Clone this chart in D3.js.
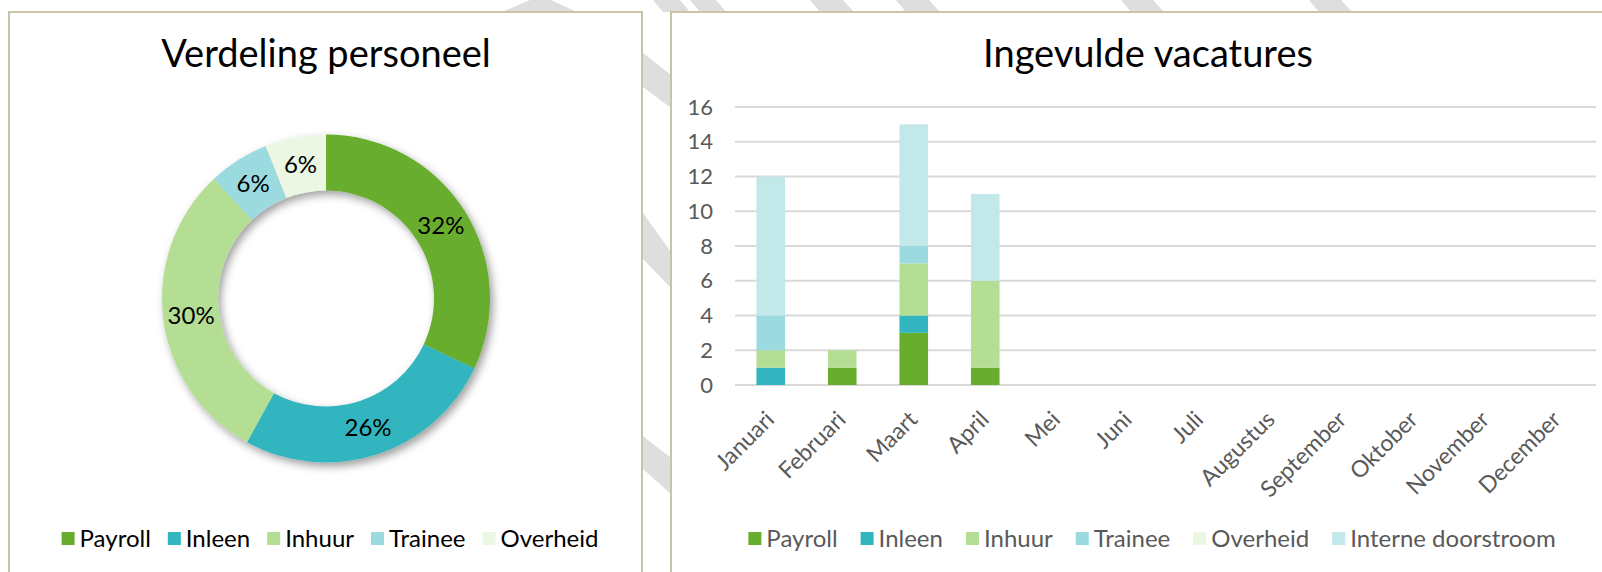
<!DOCTYPE html>
<html>
<head>
<meta charset="utf-8">
<script src="https://cdn.jsdelivr.net/npm/d3@7/dist/d3.min.js"></script>
<style>
  html, body { margin: 0; padding: 0; background: #fff; }
  svg { display: block; font-family: Lato, "Noto Sans", sans-serif; }
</style>
</head>
<body>
<svg id="chart" width="1602" height="572"></svg>
<script>
'use strict';

// donut: Verdeling personeel
const pieLabels = ['Payroll', 'Inleen', 'Inhuur', 'Trainee', 'Overheid'];
const pieValues = [32, 26, 30, 6, 6];

// stacked bars: Ingevulde vacatures
const months = ['Januari', 'Februari', 'Maart', 'April', 'Mei', 'Juni', 'Juli',
  'Augustus', 'September', 'Oktober', 'November', 'December'];
const seriesNames = ['Payroll', 'Inleen', 'Inhuur', 'Trainee', 'Overheid', 'Interne doorstroom'];
const payroll = [0, 1, 3, 1, 0, 0, 0, 0, 0, 0, 0, 0];
const inleen = [1, 0, 1, 0, 0, 0, 0, 0, 0, 0, 0, 0];
const inhuur = [1, 1, 3, 5, 0, 0, 0, 0, 0, 0, 0, 0];
const trainee = [2, 0, 1, 0, 0, 0, 0, 0, 0, 0, 0, 0];
const overheid = [0, 0, 0, 0, 0, 0, 0, 0, 0, 0, 0, 0];
const interne = [8, 0, 7, 5, 0, 0, 0, 0, 0, 0, 0, 0];
const yTicks = [0, 2, 4, 6, 8, 10, 12, 14, 16];

const colors = {
  'Payroll': '#69ad2e',
  'Inleen': '#32b5bf',
  'Inhuur': '#b4de94',
  'Trainee': '#9bdbe0',
  'Overheid': '#ebf6e3',
  'Interne doorstroom': '#c3e8ea'
};

const svg = d3.select('#chart');

// background watermark bands
const bands = [
  [[530, 0], [551, 0], [577, 12], [502, 12]],
  [[653, 0], [680, 0], [690, 12], [663, 12]],
  [[690, 0], [716, 0], [726, 12], [700, 12]],
  [[810, 0], [843, 0], [854, 12], [820, 12]],
  [[896, 0], [929, 0], [940, 12], [906, 12]],
  [[1121, 0], [1153, 0], [1164, 12], [1131, 12]],
  [[1309, 0], [1341, 0], [1352, 12], [1319, 12]],
  [[643, 53], [671, 75], [671, 108], [643, 87]],
  [[643, 213], [671, 252], [671, 288], [643, 259]],
  [[643, 436], [671, 458], [671, 494], [643, 469]]
];
svg.append('g')
  .selectAll('polygon')
  .data(bands)
  .join('polygon')
  .attr('points', (d) => d.map((p) => p.join(',')).join(' '))
  .attr('fill', '#dedede');

const defs = svg.append('defs');
defs.append('filter')
  .attr('id', 'shadow')
  .attr('x', '-20%').attr('y', '-20%')
  .attr('width', '140%').attr('height', '140%')
  .append('feDropShadow')
  .attr('dx', 3).attr('dy', 4)
  .attr('stdDeviation', 4)
  .attr('flood-color', '#000')
  .attr('flood-opacity', 0.38);

// panels
svg.append('rect')
  .attr('x', 9).attr('y', 12).attr('width', 633).attr('height', 600)
  .attr('fill', '#fff').attr('stroke', '#c9c4a3').attr('stroke-width', 2);
svg.append('rect')
  .attr('x', 671).attr('y', 12).attr('width', 1000).attr('height', 600)
  .attr('fill', '#fff').attr('stroke', '#c9c4a3').attr('stroke-width', 2);

function drawLegend(g, names, centerX, y, gap, textColor) {
  const items = g.selectAll('g').data(names).join('g');
  items.append('rect').attr('width', 13).attr('height', 13).attr('y', -7)
    .attr('fill', (d) => colors[d]);
  items.append('text').attr('x', 18).attr('dy', '0.35em')
    .attr('font-size', 24).attr('fill', textColor).text((d) => d);
  let x = 0;
  items.each(function () {
    const w = 18 + this.querySelector('text').getComputedTextLength();
    d3.select(this).attr('transform', `translate(${x},0)`);
    x += w + gap;
  });
  const total = x - gap;
  g.attr('transform', `translate(${centerX - total / 2},${y})`);
}

// ---- donut ----
const cx = 326, cy = 298.5;
const pie = d3.pie().sort(null).value((d) => d.value);
const arcs = pie(pieLabels.map((name, i) => ({ name, value: pieValues[i] })));
const arc = d3.arc().innerRadius(108).outerRadius(164);

const donut = svg.append('g').attr('transform', `translate(${cx},${cy})`);
donut.append('g')
  .attr('filter', 'url(#shadow)')
  .selectAll('path')
  .data(arcs)
  .join('path')
  .attr('d', arc)
  .attr('fill', (d) => colors[d.data.name]);

donut.append('g')
  .selectAll('text')
  .data(arcs)
  .join('text')
  .attr('transform', (d) => `translate(${arc.centroid(d)})`)
  .attr('text-anchor', 'middle')
  .attr('dy', '0.35em')
  .attr('font-size', 24)
  .attr('fill', '#000')
  .text((d) => `${d.data.value}%`);

svg.append('text')
  .attr('x', 326).attr('y', 67)
  .attr('text-anchor', 'middle')
  .attr('font-size', 38)
  .attr('fill', '#000')
  .text('Verdeling personeel');

drawLegend(svg.append('g'), pieLabels, 330, 539, 17, '#000');

// ---- stacked bars ----
const x = d3.scaleBand().domain(months).range([735, 1593]).paddingInner(0.6).paddingOuter(0.3);
const y = d3.scaleLinear().domain([0, 16]).range([385, 107]);

const rows = months.map((m, i) => ({
  month: m,
  'Payroll': payroll[i],
  'Inleen': inleen[i],
  'Inhuur': inhuur[i],
  'Trainee': trainee[i],
  'Overheid': overheid[i],
  'Interne doorstroom': interne[i]
}));
const stacked = d3.stack().keys(seriesNames)(rows);

svg.append('g')
  .selectAll('line')
  .data(yTicks)
  .join('line')
  .attr('x1', 735).attr('x2', 1596)
  .attr('y1', (d) => y(d)).attr('y2', (d) => y(d))
  .attr('stroke', '#d9d9d9')
  .attr('stroke-width', 2);

const yAxis = svg.append('g')
  .attr('transform', 'translate(735,0)')
  .call(d3.axisLeft(y).tickValues(yTicks).tickSize(0).tickPadding(22));
yAxis.select('.domain').remove();
yAxis.selectAll('text')
  .attr('font-family', 'Lato, "Noto Sans", sans-serif')
  .attr('font-size', 22)
  .attr('fill', '#595959');

svg.append('g')
  .selectAll('g')
  .data(stacked)
  .join('g')
  .attr('fill', (d) => colors[d.key])
  .selectAll('rect')
  .data((d) => d.filter((s) => s[1] - s[0] > 0))
  .join('rect')
  .attr('x', (d) => x(d.data.month))
  .attr('width', x.bandwidth())
  .attr('y', (d) => y(d[1]))
  .attr('height', (d) => y(d[0]) - y(d[1]));

svg.append('g')
  .selectAll('text')
  .data(months)
  .join('text')
  .attr('transform', (d) => `translate(${x(d) + x.bandwidth() / 2 + 5},421) rotate(-45)`)
  .attr('text-anchor', 'end')
  .attr('font-size', 23)
  .attr('fill', '#595959')
  .text((d) => d);

svg.append('text')
  .attr('x', 1148).attr('y', 67)
  .attr('text-anchor', 'middle')
  .attr('font-size', 38)
  .attr('fill', '#000')
  .text('Ingevulde vacatures');

drawLegend(svg.append('g'), seriesNames, 1152, 539, 23, '#595959');
</script>
</body>
</html>
